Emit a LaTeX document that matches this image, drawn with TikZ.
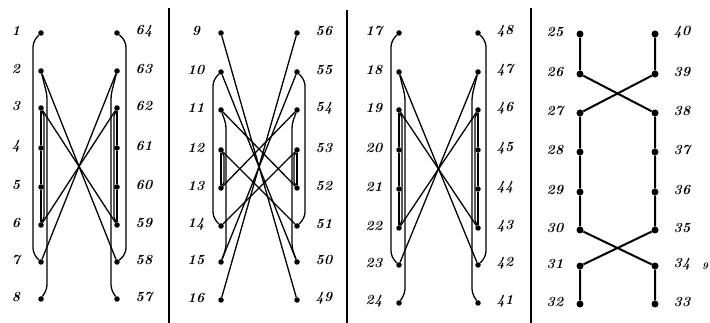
\documentclass[tikz,border=0pt]{standalone}
\usetikzlibrary{calc}
\tikzset{
 dot/.style={circle,fill=black,inner sep=0pt,minimum size=5.5pt},
 bigdot/.style={circle,fill=black,inner sep=0pt,minimum size=7pt},
 lab/.style={font=\fontsize{14}{14}\selectfont\bfseries\itshape, inner sep=0pt},
 smalllab/.style={font=\fontsize{10}{10}\selectfont\bfseries\itshape, inner sep=0pt},
 wire/.style={line width=1.3pt},
 thickwire/.style={line width=2pt},
 divider/.style={line width=1.5pt},
}
% #1 prefix, #2 left x, #3 right x, #4 first left number, #5 first right number,
% #6 dot style, #7 row list i/y
\newcommand\wpanel[7]{%
 \foreach \i/\y in {#7}{%
   \node[#6] (#1l\i) at (#2,\y) {};
   \node[#6] (#1r\i) at (#3,\y) {};
   \pgfmathtruncatemacro\nl{#4+\i-1}%
   \pgfmathtruncatemacro\nr{#5-\i+1}%
   \node[lab] (#1L\i) at (#2-25,\y-2) {\nl};
   \node[lab] (#1R\i) at (#3+27,\y-2) {\nr};
 }}
\begin{document}
\begin{tikzpicture}[x=1pt,y=-1pt]
\useasboundingbox[fill=white] (0,0) rectangle (710,323);

% dividers
\draw[divider] (169,8) -- (169,323);
\draw[divider] (347,10) -- (347,323);
\draw[divider] (531,8) -- (531,323);

% ---------- panel 1 ----------
\wpanel{A}{41}{117}{1}{64}{dot}{1/33,2/71,3/108,4/148,5/187,6/225,7/262,8/299}
\draw[wire,rounded corners=6pt] (Al1) -- ($(Al1)+(-8,8)$) -- ($(Al7)+(-8,-8)$) -- (Al7);
\draw[wire,rounded corners=4pt] (Al2) -- ($(Al2)+(6,24)$) -- ($(Al8)+(6,-10)$) -- (Al8);
\draw[wire] (Al3) -- (Al4) -- (Al5) -- (Al6);
\draw[wire] (Al3) -- ($(Al3)+(3,8)$) -- ($(Al6)+(3,-8)$) -- (Al6);
\draw[wire,rounded corners=6pt] (Ar1) -- ($(Ar1)+(9,8)$) -- ($(Ar7)+(9,-8)$) -- (Ar7);
\draw[wire,rounded corners=4pt] (Ar2) -- ($(Ar2)+(-6,24)$) -- ($(Ar8)+(-6,-10)$) -- (Ar8);
\draw[wire] (Ar3) -- (Ar4) -- (Ar5) -- (Ar6);
\draw[wire] (Ar3) -- ($(Ar3)+(-3,8)$) -- ($(Ar6)+(-3,-8)$) -- (Ar6);
\draw[wire] (Al2) -- (Ar7);
\draw[wire] (Al3) -- (Ar6);
\draw[wire] (Ar2) -- (Al7);
\draw[wire] (Ar3) -- (Al6);

% ---------- panel 2 ----------
\wpanel{B}{221}{297}{9}{56}{dot}{1/33,2/72,3/110,4/150,5/188,6/226,7/262,8/300}
\draw[wire] (Bl1) -- (Br8);
\draw[wire] (Br1) -- (Bl8);
\draw[wire,rounded corners=6pt] (Bl2) -- ($(Bl2)+(-8,8)$) -- ($(Bl6)+(-8,-8)$) -- (Bl6);
\draw[wire,rounded corners=6pt] (Br2) -- ($(Br2)+(8,8)$) -- ($(Br6)+(8,-8)$) -- (Br6);
\draw[wire] (Bl2) -- (Br7);
\draw[wire] (Br2) -- (Bl7);
\draw[wire,rounded corners=4pt] (Bl3) -- ($(Bl3)+(5,14)$) -- ($(Bl7)+(5,-14)$) -- (Bl7);
\draw[wire,rounded corners=4pt] (Br3) -- ($(Br3)+(-5,14)$) -- ($(Br7)+(-5,-14)$) -- (Br7);
\draw[wire] (Bl3) -- (Br5);
\draw[wire] (Br3) -- (Bl5);
\draw[wire] (Bl4) -- (Br6);
\draw[wire] (Br4) -- (Bl6);
\draw[wire] (Bl4) -- (Bl5);
\draw[wire] (Bl4) -- ($(Bl4)+(3,6)$) -- ($(Bl5)+(3,-6)$) -- (Bl5);
\draw[wire] (Br4) -- (Br5);
\draw[wire] (Br4) -- ($(Br4)+(-3,6)$) -- ($(Br5)+(-3,-6)$) -- (Br5);

% ---------- panel 3 ----------
\wpanel{C}{399}{478}{17}{48}{dot}{1/33,2/72,3/110,4/150,5/189,6/228,7/265,8/303}
\draw[wire,rounded corners=6pt] (Cl1) -- ($(Cl1)+(-8,8)$) -- ($(Cl7)+(-8,-8)$) -- (Cl7);
\draw[wire,rounded corners=4pt] (Cl2) -- ($(Cl2)+(6,24)$) -- ($(Cl8)+(6,-10)$) -- (Cl8);
\draw[wire] (Cl3) -- (Cl4) -- (Cl5) -- (Cl6);
\draw[wire] (Cl3) -- ($(Cl3)+(3,8)$) -- ($(Cl6)+(3,-8)$) -- (Cl6);
\draw[wire,rounded corners=6pt] (Cr1) -- ($(Cr1)+(8,8)$) -- ($(Cr7)+(8,-8)$) -- (Cr7);
\draw[wire,rounded corners=4pt] (Cr2) -- ($(Cr2)+(-6,24)$) -- ($(Cr8)+(-6,-10)$) -- (Cr8);
\draw[wire] (Cr3) -- (Cr4) -- (Cr5) -- (Cr6);
\draw[wire] (Cr3) -- ($(Cr3)+(-3,8)$) -- ($(Cr6)+(-3,-8)$) -- (Cr6);
\draw[wire] (Cl2) -- (Cr7);
\draw[wire] (Cl3) -- (Cr6);
\draw[wire] (Cr2) -- (Cl7);
\draw[wire] (Cr3) -- (Cl6);

% ---------- panel 4 ----------
\wpanel{D}{580}{655}{25}{40}{bigdot}{1/34,2/74,3/113,4/152,5/192,6/230,7/266,8/304}
\draw[thickwire] (Dl1) -- (Dl2) -- (Dr3) -- (Dr4) -- (Dr5) -- (Dr6) -- (Dl7) -- (Dl8);
\draw[thickwire] (Dr1) -- (Dr2) -- (Dl3) -- (Dl4) -- (Dl5) -- (Dl6) -- (Dr7) -- (Dr8);
\node[smalllab] (stray) at (705,266) {9};
\end{tikzpicture}
\end{document}
